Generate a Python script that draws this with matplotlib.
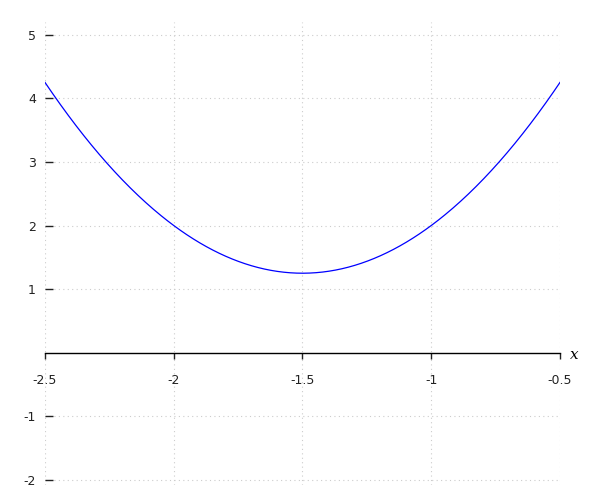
import numpy as np
import matplotlib.pyplot as plt

# curve: parabola with vertex (-1.5, 1.25), passing (-2, 2) and (-2.5, 4.25)
coeffs = [3.0, 9.0, 8.0]
x_range = [-2.5, -0.5]
x_ticks = [-2.5, -2, -1.5, -1, -0.5]
x_tick_labels = ['-2.5', '-2', '-1.5', '-1', '-0.5']
y_ticks = [-2, -1, 1, 2, 3, 4, 5]
y_tick_labels = ['-2', '-1', '1', '2', '3', '4', '5']

x = np.linspace(x_range[0], x_range[1], 400)
y = np.polyval(coeffs, x)

fig = plt.figure(figsize=(6, 5), dpi=100)
ax = fig.add_axes([0.075, 0.03, 0.8583, 0.926])
ax.plot(x, y, color='blue', linewidth=0.9)

ax.set_xlim(x_range)
ax.set_ylim(-2.08, 5.2)

for s in ['top', 'right', 'left']:
    ax.spines[s].set_visible(False)
ax.spines['bottom'].set_position(('data', 0))
ax.spines['bottom'].set_linewidth(1.0)

ax.set_xticks(x_ticks)
ax.set_xticklabels(x_tick_labels)
ax.set_yticks(y_ticks)
ax.set_yticklabels(y_tick_labels)
ax.tick_params(axis='x', direction='out', length=4, width=1, labelsize=9, pad=11, colors='#222222')
ax.tick_params(axis='y', direction='in', length=6, width=1, labelsize=9, pad=6.5, colors='#222222')
ax.grid(True, color='#cccccc', linestyle=(0, (1, 3)), linewidth=0.8)

ax.text(1.02, -0.04, 'x', transform=ax.get_yaxis_transform(), fontfamily='serif',
        fontstyle='italic', fontsize=11, va='center', ha='left')

fig.savefig('out.png')
